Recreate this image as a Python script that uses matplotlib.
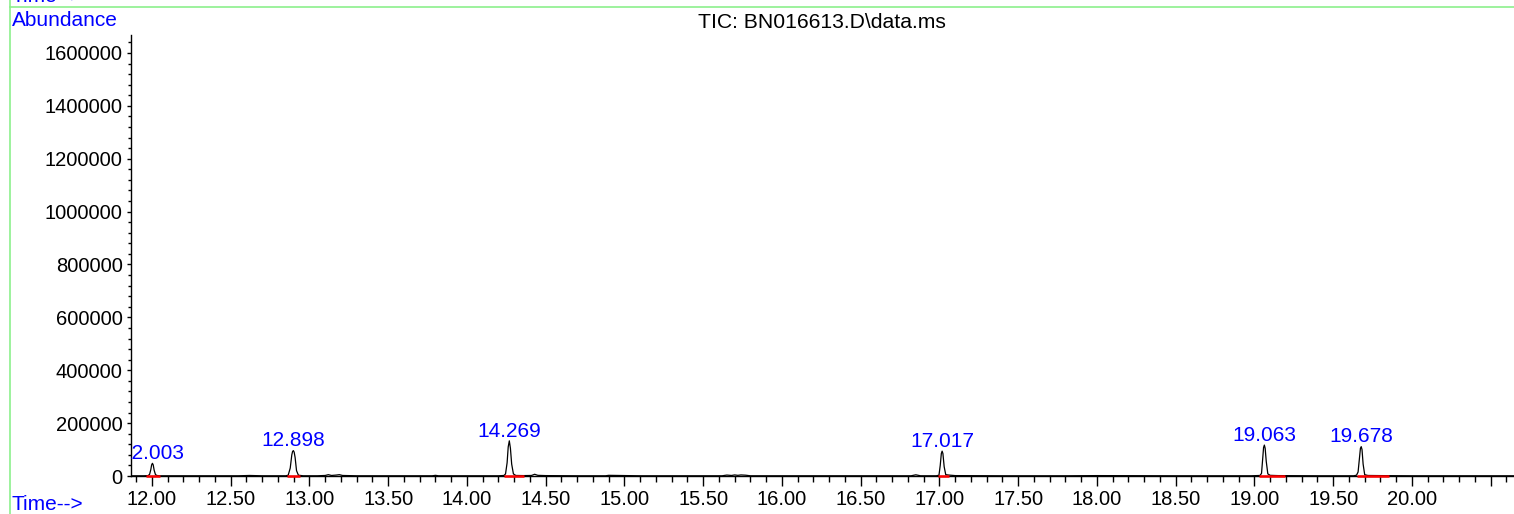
import matplotlib
matplotlib.use("Agg")
import matplotlib.pyplot as plt
from matplotlib.ticker import MultipleLocator, FixedLocator, FuncFormatter
from matplotlib.lines import Line2D

plt.rcParams['font.family'] = ['Liberation Sans', 'DejaVu Sans']

# ---- data ----
title = "TIC: BN016613.D\\data.ms"

# chromatogram trace: retention time (min) and abundance
trace_time = [11.867, 11.90, 11.95, 11.975, 11.985, 11.993, 11.998, 12.003, 12.008, 12.014, 12.022, 12.03, 12.05,
              12.30, 12.55, 12.62, 12.70, 12.85, 12.865, 12.878, 12.888, 12.893, 12.898, 12.903, 12.909, 12.918,
              12.93, 12.96, 13.05, 13.10, 13.12, 13.14, 13.17, 13.19, 13.21, 13.30, 13.50, 13.78, 13.80, 13.82,
              14.00, 14.20, 14.235, 14.245, 14.255, 14.262, 14.269, 14.276, 14.284, 14.295, 14.31, 14.36, 14.41,
              14.43, 14.45, 14.50, 14.70, 14.88, 14.90, 15.10, 15.40, 15.62, 15.65, 15.68, 15.70, 15.72, 15.74,
              15.77, 15.80, 16.00, 16.40, 16.82, 16.85, 16.88, 16.98, 16.997, 17.005, 17.012, 17.017, 17.022,
              17.03, 17.04, 17.06, 17.10, 17.40, 17.80, 18.00, 18.50, 18.98, 19.035, 19.045, 19.053, 19.058,
              19.063, 19.068, 19.075, 19.085, 19.10, 19.15, 19.40, 19.63, 19.648, 19.658, 19.668, 19.673,
              19.678, 19.683, 19.69, 19.70, 19.72, 19.80, 20.00, 20.30, 20.648]
trace_abund = [800, 800, 800, 1500, 6000, 25000, 42000, 48000, 42000, 22000, 6000, 2000, 800,
               800, 800, 2000, 800, 800, 3000, 30000, 80000, 93000, 96000, 90000, 70000, 20000,
               3000, 800, 800, 2000, 5000, 2000, 3500, 5000, 2000, 800, 800, 800, 2500, 800,
               800, 800, 2000, 8000, 50000, 110000, 133000, 105000, 45000, 8000, 2000, 1500, 2000,
               6500, 2500, 1500, 800, 800, 2500, 800, 800, 800, 3500, 2000, 4000, 2500, 4000,
               3000, 800, 800, 800, 800, 4500, 800, 800, 3000, 40000, 85000, 94000, 85000,
               35000, 5000, 3500, 1500, 800, 800, 1500, 800, 800, 2000, 10000, 70000, 108000,
               117000, 105000, 55000, 8000, 2500, 1500, 800, 800, 3000, 15000, 75000, 105000,
               111000, 100000, 45000, 5000, 2000, 1500, 800, 800, 800]

# labelled peaks
peak_rt = [12.003, 12.898, 14.269, 17.017, 19.063, 19.678]
peak_height = [48000, 96000, 133000, 94000, 117000, 111000]
peak_label = ["12.003", "12.898", "14.269", "17.017", "19.063", "19.678"]

# integration baselines (start, end)
integ_start = [11.96, 12.855, 14.237, 16.99, 19.03, 19.65]
integ_end = [12.05, 12.94, 14.362, 17.06, 19.195, 19.855]

x_major = [12.0, 12.5, 13.0, 13.5, 14.0, 14.5, 15.0, 15.5, 16.0, 16.5, 17.0, 17.5, 18.0, 18.5, 19.0, 19.5, 20.0, 20.5]
x_labels = ["12.00", "12.50", "13.00", "13.50", "14.00", "14.50", "15.00", "15.50", "16.00", "16.50",
            "17.00", "17.50", "18.00", "18.50", "19.00", "19.50", "20.00", ""]
y_major = [0, 200000, 400000, 600000, 800000, 1000000, 1200000, 1400000, 1600000]

# ---- figure ----
W, H = 1514, 514
fig = plt.figure(figsize=(W / 100, H / 100), dpi=100)
ax = fig.add_axes([131 / W, 1 - 476 / H, (W - 131) / W, (476 - 35) / H])

ax.plot(trace_time, trace_abund, color='black', lw=0.9, zorder=3)
for s, e in zip(integ_start, integ_end):
    ax.plot([s, e], [0, 0], color='red', lw=1.8, zorder=5, solid_capstyle='butt', clip_on=False)

for rt, h, lab in zip(peak_rt, peak_height, peak_label):
    ax.annotate(lab, xy=(rt, h), xytext=(0, 3), textcoords='offset points',
                ha='center', va='baseline', color='blue', fontsize=15, annotation_clip=False,
                clip_on=True)

ax.set_xlim(11.867, 20.648)
ax.set_ylim(0, 1668000)

ax.spines['top'].set_visible(False)
ax.spines['right'].set_visible(False)
for sp in ('left', 'bottom'):
    ax.spines[sp].set_linewidth(1.0)

ax.xaxis.set_major_locator(FixedLocator(x_major))
ax.set_xticklabels(x_labels)
ax.xaxis.set_minor_locator(MultipleLocator(0.1))
ax.yaxis.set_major_locator(FixedLocator(y_major))
ax.yaxis.set_major_formatter(FuncFormatter(lambda v, p: f"{int(round(v))}"))
ax.yaxis.set_minor_locator(MultipleLocator(40000))

ax.tick_params(axis='x', which='major', direction='out', length=7.5, width=1, labelsize=14.5, pad=2.5)
ax.tick_params(axis='x', which='minor', direction='out', length=4, width=1)
ax.tick_params(axis='y', which='major', direction='out', length=3, width=1, labelsize=14.5, pad=3)
ax.tick_params(axis='y', which='minor', direction='out', length=2, width=1)

# title and labels
fig.text(822 / W, 1 - 23 / H, title, ha='center', va='center', fontsize=15.2, color='black')
fig.text(12 / W, 1 - 20 / H, "Abundance", ha='left', va='center', fontsize=15, color='blue')
fig.text(12 / W, 1 - 505 / H, "Time-->", ha='left', va='center', fontsize=15, color='blue')
fig.text(12 / W, 1 - (-3) / H, "Time-->", ha='left', va='center', fontsize=15, color='blue')

# green frame lines
green = '#8CF08C'
fig.add_artist(Line2D([10 / W, 10 / W], [0, 1], transform=fig.transFigure, color=green, lw=1.2))
fig.add_artist(Line2D([10 / W, 1], [1 - 7 / H, 1 - 7 / H], transform=fig.transFigure, color=green, lw=1.2))

fig.savefig("out.png", dpi=100)
